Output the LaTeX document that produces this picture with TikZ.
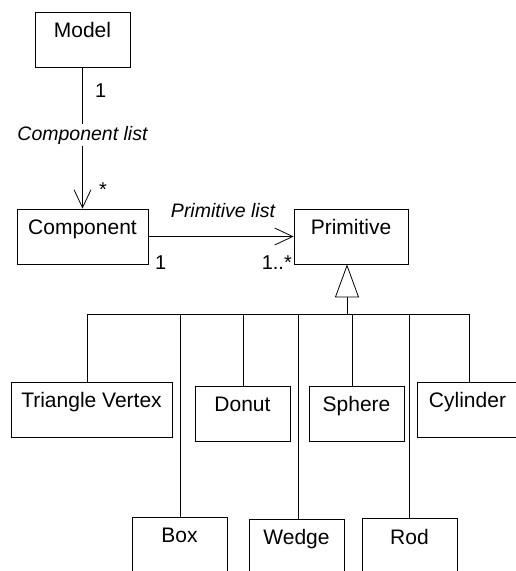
\documentclass[tikz,border=0pt]{standalone}
\usepackage{fontspec}
\setmainfont{Liberation Sans}
\usetikzlibrary{arrows.meta}

\tikzset{
  cls/.style={draw, line width=0.8pt, inner sep=0pt, minimum height=55pt,
    text height=25.5pt, text depth=29.5pt, font=\fontsize{21}{25}\selectfont},
  role/.style={inner sep=0pt, font=\fontsize{19.5}{23}\selectfont\itshape},
  mult/.style={inner sep=0pt, font=\fontsize{20}{24}\selectfont},
  conn/.style={line width=0.8pt},
  nav/.style={conn, -{Straight Barb[length=18pt,width=17pt,line width=0.8pt]}},
  gen/.style={conn, {Triangle[open,length=33pt,width=24pt,line width=0.8pt]}-}
}

\begin{document}
\begin{tikzpicture}[x=1pt, y=-1pt]
\useasboundingbox (0,0) rectangle (516,571);

% upper classes
\node[cls, minimum width=95pt]  (model) at (82.5,39.5)  {Model};
\node[cls, minimum width=131pt] (comp)  at (82.5,236.5) {Component};
\node[cls, minimum width=114pt] (prim)  at (351,236.5)  {Primitive};

% subclasses, first row
\node[cls, minimum width=161pt] (tri)    at (91.5,409.5)  {Triangle Vertex};
\node[cls, minimum width=95pt]  (donut)  at (242.5,413.5) {Donut};
\node[cls, minimum width=95pt]  (sphere) at (356.5,413.5) {Sphere};
\node[cls, minimum width=101pt] (cyl)    at (467.5,409.5) {Cylinder};

% subclasses, second row
\node[cls, minimum width=95pt] (box)   at (179.5,544.5) {Box};
\node[cls, minimum width=95pt] (wedge) at (296.5,546.5) {Wedge};
\node[cls, minimum width=95pt] (rod)   at (409.5,546)   {Rod};

% associations
\draw[nav] (model.south) -- (comp.north)
  node[role, fill=white, inner sep=2pt, pos=0.48] (complist) {Component list};
\node[mult, anchor=base west] (m1) at (95,97) {1};
\node[mult, anchor=base west] (m2) at (99,196) {*};

\draw[nav] (comp.east) -- (prim.west);
\node[role, anchor=base] (primlist) at (223,217) {Primitive list};
\node[mult, anchor=base west] (m3) at (155,269) {1};
\node[mult, anchor=base east] (m4) at (292,269) {1..*};

% generalisation
\coordinate (bus) at (347,314);
\draw[gen] ([xshift=-4pt]prim.south) -- (bus);
\foreach \n/\dx in {tri/-4.5, box/0.5, donut/0.5, wedge/1.5, sphere/-4.5, rod/-0.5, cyl/1.5}
  \draw[conn] ([xshift=\dx pt]\n.north) |- (bus);
\end{tikzpicture}
\end{document}
